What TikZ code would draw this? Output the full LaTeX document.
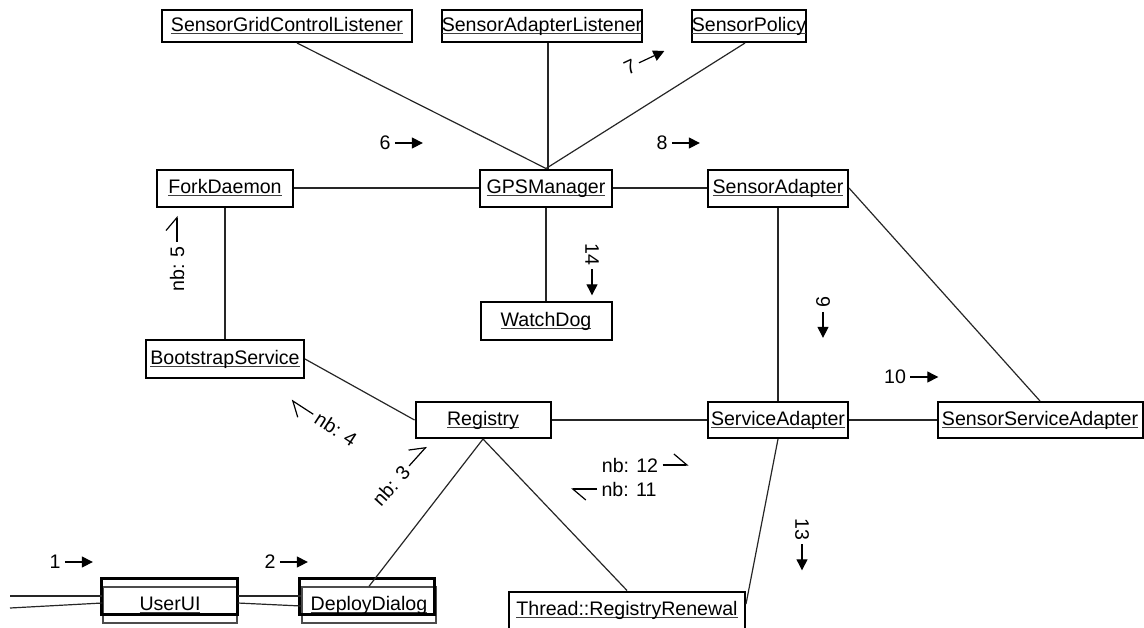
\documentclass[tikz,border=0pt]{standalone}
\usepackage{fontspec}
\setmainfont{Liberation Sans}
\usetikzlibrary{arrows.meta,calc}
% object name, underlined as in UML object diagrams
\newcommand\objname[1]{\setbox0=\hbox{#1}\rlap{\smash{\color{black!75}\rule[-1.7pt]{\wd0}{0.55pt}}}\box0}

\begin{document}
\begin{tikzpicture}[x=0.5pt,y=-0.5pt,
  every node/.style={font=\fontsize{9.8pt}{11pt}\selectfont},
  obj/.style={draw, line width=1pt, inner sep=0pt, text height=7pt, text depth=2pt},
  ghost/.style={draw=black!70, line width=0.7pt, inner sep=0pt, text height=7pt, text depth=2pt},
  frame/.style={draw, line width=1.4pt},
  link/.style={line width=0.6pt, draw=black!85},
  lbl/.style={inner xsep=2pt, inner ysep=0pt},
  msg/.style={line width=0.6pt, -{Triangle[length=5.5pt,width=5.5pt]}},
  async/.style={line width=0.6pt, -{Straight Barb[harpoon,length=6.5pt,width=11pt]}},
]
\useasboundingbox (0,0) rectangle (1144,627);

% ---- objects
\node[obj, minimum width=125pt, minimum height=16pt] (sgcl) at (287,26) {\objname{SensorGridControlListener}};
\node[obj, minimum width=97.5pt, minimum height=16pt] (sal) at (542,26) {\objname{SensorAdapterListener}};
\node[obj, minimum width=57pt, minimum height=16pt] (spol) at (749,26) {\objname{SensorPolicy}};
\node[obj, minimum width=68pt, minimum height=18.5pt] (fork) at (225,188) {\objname{ForkDaemon}};
\node[obj, minimum width=66pt, minimum height=18.5pt] (gps) at (546,188) {\objname{GPSManager}};
\node[obj, minimum width=70pt, minimum height=18.5pt] (sadp) at (778,188) {\objname{SensorAdapter}};
\node[obj, minimum width=65.5pt, minimum height=19pt] (wdog) at (546,321) {\objname{WatchDog}};
\node[obj, minimum width=79pt, minimum height=19pt] (boot) at (225,359) {\objname{BootstrapService}};
\node[obj, minimum width=67.5pt, minimum height=18pt] (reg) at (483,420) {\objname{Registry}};
\node[obj, minimum width=70pt, minimum height=18pt] (svad) at (778,420) {\objname{ServiceAdapter}};
\node[obj, minimum width=102.5pt, minimum height=18pt] (ssad) at (1040,420) {\objname{SensorServiceAdapter}};
\node[obj, minimum width=118pt, minimum height=18.5pt] (thr) at (627,610) {\objname{Thread::RegistryRenewal}};
\node[ghost, minimum width=67pt, minimum height=18pt] (user) at (170,605) {\objname{UserUI}};
\node[ghost, minimum width=67pt, minimum height=18pt] (deploy) at (369,605) {\objname{DeployDialog}};
% heavier outlines sitting a little above the two dialog objects
\draw[frame] ($(user.north west)+(-1,-8)$) rectangle ($(user.south east)+(0,-9)$);
\draw[frame] ($(deploy.north west)+(-2,-8)$) rectangle ($(deploy.south east)+(-2,-9)$);

% ---- links
\draw[link] ([xshift=5pt]sgcl.south) -- (gps.north);
\draw[link] ([xshift=3pt]sal.south) -- ([xshift=1pt]gps.north);
\draw[link] ([xshift=-2pt]spol.south) -- (gps.north);
\draw[link] (fork) -- (gps);
\draw[link] (gps) -- (sadp);
\draw[link] (gps) -- (wdog);
\draw[link] (fork) -- (boot);
\draw[link] (boot.east) -- (reg.west);
\draw[link] (reg) -- (svad);
\draw[link] (svad) -- (ssad);
\draw[link] (sadp) -- (svad);
\draw[link] (sadp.east) -- (ssad.north);
\draw[link] (reg.south) -- (deploy.north);
\draw[link] (reg.south) -- (thr.north);
\draw[link] (svad.south) -- ([yshift=3pt]thr.east);
\coordinate (inA) at (10,596);
\coordinate (inB) at (10,608);
\draw[link] (inA) -- (inA -| user.west);
\draw[link] (inB) -- ([yshift=1pt]user.west);
\draw[link] ([yshift=4.5pt]user.east) -- ([yshift=4.5pt]deploy.west);
\draw[link] ([yshift=1pt]user.east) -- ([yshift=-0.5pt]deploy.west);

% ---- message numbers
\node[lbl] (m1) at (55,562) {1};
\draw[msg] (m1.east) -- ($(m1.east)!-14pt!(m1.center)$);
\node[lbl] (m2) at (270,562) {2};
\draw[msg] (m2.east) -- ($(m2.east)!-14pt!(m2.center)$);
\node[lbl] (m6) at (385,143) {6};
\draw[msg] (m6.east) -- ($(m6.east)!-14pt!(m6.center)$);
\node[lbl] (m8) at (662,143) {8};
\draw[msg] (m8.east) -- ($(m8.east)!-14pt!(m8.center)$);
\node[lbl] (m10) at (895,377) {10};
\draw[msg] (m10.east) -- ($(m10.east)!-14pt!(m10.center)$);
\node[lbl, rotate=25] (m7) at (630,67) {7};
\draw[msg] (m7.east) -- ($(m7.east)!-14pt!(m7.center)$);
\node[lbl, rotate=-90] (m14) at (592,254) {14};
\draw[msg] (m14.east) -- ($(m14.east)!-13pt!(m14.center)$);
\node[lbl, rotate=-90] (m9) at (823,302) {9};
\draw[msg] (m9.east) -- ($(m9.east)!-13pt!(m9.center)$);
\node[lbl, rotate=-90] (m13) at (802,529) {13};
\draw[msg] (m13.east) -- ($(m13.east)!-13pt!(m13.center)$);

% ---- asynchronous messages
\node[lbl] (a12) at (630,465) {nb: 12};
\draw[async] (a12.east) -- ($(a12.east)!-13pt!(a12.center)$);
\node[lbl] (a11) at (629,489) {nb: 11};
\draw[async] (a11.west) -- ($(a11.west)!-13pt!(a11.center)$);
\node[lbl, rotate=90] (a5) at (177,269) {nb: 5};
\draw[async] (a5.east) -- ($(a5.east)!-13pt!(a5.center)$);
\node[lbl, rotate=-33] (a4) at (336,429) {nb: 4};
\draw[async] (a4.west) -- ($(a4.west)!-13pt!(a4.center)$);
\node[lbl, rotate=48] (a3) at (391,486) {nb: 3};
\draw[async] (a3.east) -- ($(a3.east)!-13pt!(a3.center)$);
\end{tikzpicture}
\end{document}
